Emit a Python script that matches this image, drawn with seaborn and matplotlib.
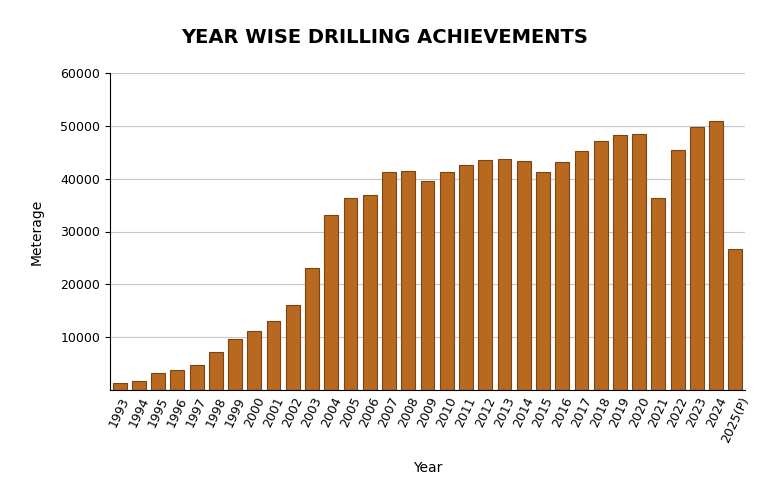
import matplotlib
matplotlib.use("Agg")
import matplotlib.pyplot as plt
import seaborn as sns
import pandas as pd

years = ["1993","1994","1995","1996","1997","1998","1999","2000","2001","2002","2003",
         "2004","2005","2006","2007","2008","2009","2010","2011","2012","2013","2014",
         "2015","2016","2017","2018","2019","2020","2021","2022","2023","2024","2025(P)"]
meterage = [1300,1700,3200,3800,4700,7200,9700,11200,13100,16000,23000,
            33200,36400,37000,41200,41400,39500,41200,42500,43500,43700,43300,
            41200,43100,45200,47100,48200,48400,36400,45500,49700,50900,26600]

df = pd.DataFrame({"Year": years, "Meterage": meterage})

fig = plt.figure(figsize=(7.7, 5.04), dpi=100)
ax = fig.add_axes([110/770, 1-390/504, 635/770, 317/504])
sns.barplot(data=df, x="Year", y="Meterage", color="#b8691f", edgecolor="#7a4413",
            linewidth=0.8, width=0.72, saturation=1, ax=ax)
ax.set_ylim(0, 60000)
ax.set_yticks([10000,20000,30000,40000,50000,60000])
ax.yaxis.grid(True, color="#c8c8c8", linewidth=0.8)
ax.set_axisbelow(True)
for s in ["top","right"]:
    ax.spines[s].set_visible(False)
ax.tick_params(axis="x", rotation=65, labelsize=9, length=0)
ax.tick_params(axis="y", labelsize=9)
for lbl in ax.get_xticklabels():
    lbl.set_ha("center")
ax.set_xlabel("Year", fontsize=10, labelpad=12)
ax.set_ylabel("Meterage", fontsize=10, labelpad=12)
fig.suptitle("YEAR WISE DRILLING ACHIEVEMENTS", fontsize=14, fontweight="bold", y=0.945, x=0.5)
fig.savefig("out.png", dpi=100)
